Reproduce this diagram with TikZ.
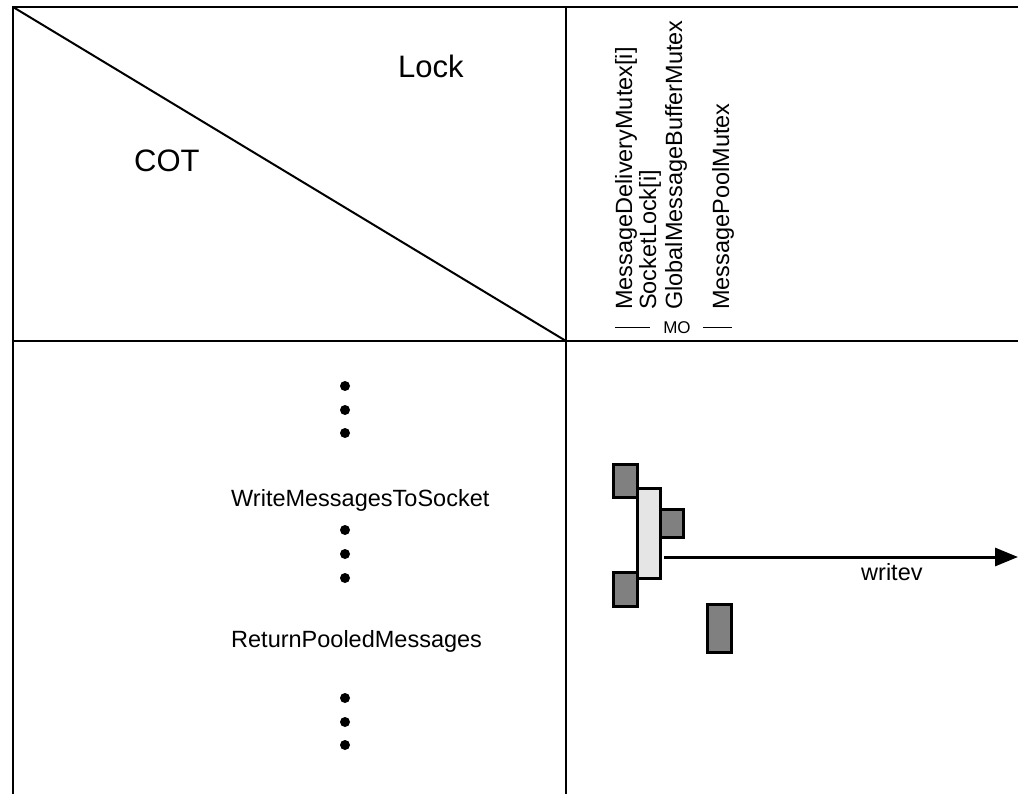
\documentclass[tikz,border=0pt]{standalone}
\usepackage{fontspec}
\setmainfont{Liberation Sans}
\usetikzlibrary{arrows.meta}
\begin{document}
\begin{tikzpicture}[x=1pt,y=-1pt,
  grid/.style={line width=2pt},
  txt/.style={font=\fontsize{23.5}{27}\selectfont,inner sep=0pt},
  big/.style={font=\fontsize{31}{36}\selectfont,inner sep=0pt},
  locklbl/.style={txt,rotate=90,anchor=base west},
  dot/.style={circle,fill=black,inner sep=0pt,minimum size=10pt},
  darkbox/.style={draw=black,line width=3pt,fill=black!50,inner sep=0pt},
  lightbox/.style={draw=black,line width=3pt,fill=black!10,inner sep=0pt}]
\useasboundingbox (0,0) rectangle (1018,794);

% table frame
\coordinate (tl) at (13,7);
\coordinate (tr) at (1018,7);
\coordinate (bl) at (13,794);
\coordinate (mid) at (566,341);
\coordinate (midtop) at (566,7);
\coordinate (midbot) at (566,794);
\coordinate (midl) at (13,341);
\coordinate (midr) at (1018,341);
\draw[grid] (bl) -- (tl) -- (tr);
\draw[grid] (midtop) -- (midbot);
\draw[grid] (midl) -- (midr);
\draw[grid] (tl) -- (mid);

% header corner
\node[big,anchor=base west] (lock) at (398,78) {Lock};
\node[big,anchor=base west] (cot) at (134,172) {COT};

% lock columns
\node[locklbl] (mdm) at (632,310) {MessageDeliveryMutex[i]};
\node[locklbl] (sl) at (656,310) {SocketLock[i]};
\node[locklbl] (gmbm) at (682,310) {GlobalMessageBufferMutex};
\node[locklbl] (mpm) at (729,310) {MessagePoolMutex};
\node[font=\fontsize{17}{20}\selectfont,inner sep=0pt] (mo) at (677,328) {MO};
\coordinate (moa1) at (615,327);
\coordinate (moa2) at (650,327);
\coordinate (mob1) at (703,327);
\coordinate (mob2) at (732,327);
\draw[line width=0.8pt] (moa1) -- (moa2);
\draw[line width=0.8pt] (mob1) -- (mob2);

% operation column
\foreach \n/\y in {d1/386,d2/410,d3/433,d4/530,d5/554,d6/578,d7/698,d8/722,d9/745}
  \node[dot] (\n) at (345,\y) {};
\node[txt,anchor=base west] (wmts) at (231,506) {WriteMessagesToSocket};
\node[txt,anchor=base west] (rpm) at (231,647) {ReturnPooledMessages};

% lock holding bars
\node[darkbox,minimum width=24pt,minimum height=33pt] (b1) at (625,480.5) {};
\node[lightbox,minimum width=23pt,minimum height=90pt] (b2) at (648.5,533) {};
\node[darkbox,minimum width=23pt,minimum height=28pt] (b3) at (671.5,523) {};
\node[darkbox,minimum width=24pt,minimum height=34pt] (b4) at (625,589) {};
\node[darkbox,minimum width=24pt,minimum height=48pt] (b5) at (719,628) {};

% system call
\coordinate (wstart) at (664,557);
\coordinate (wend) at (1018,557);
\draw[line width=3pt,-{Triangle[length=23pt,width=18pt]}] (wstart) -- (wend);
\node[txt,anchor=base west] (writev) at (861,580) {writev};
\end{tikzpicture}
\end{document}
